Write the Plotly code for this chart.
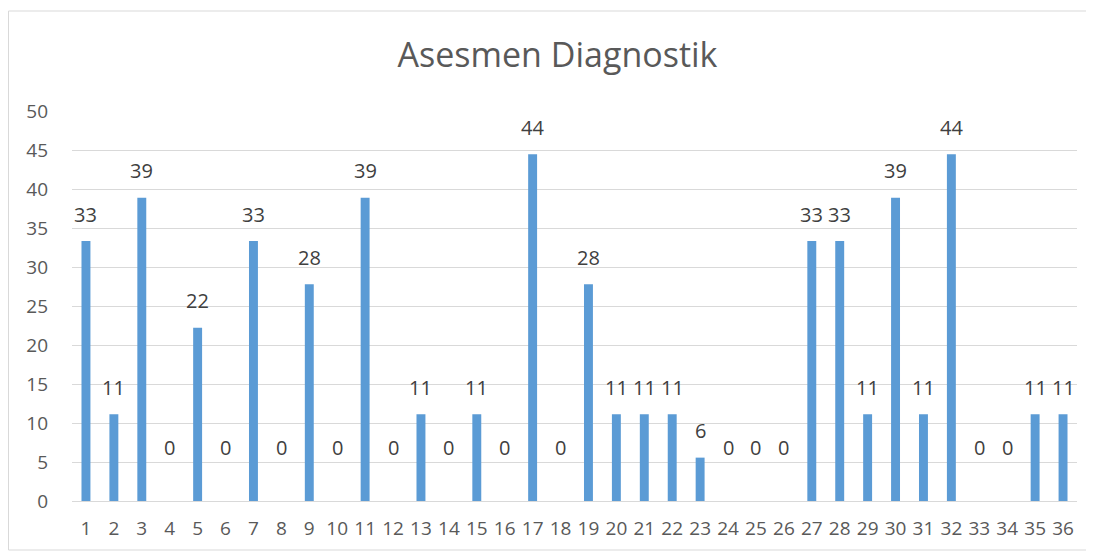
import plotly.graph_objects as go

categories = [str(i) for i in range(1, 37)]
values = [33.33, 11.11, 38.89, 0, 22.22, 0, 33.33, 0, 27.78, 0,
          38.89, 0, 11.11, 0, 11.11, 0, 44.44, 0, 27.78, 11.11,
          11.11, 11.11, 5.56, 0, 0, 0, 33.33, 33.33, 11.11, 38.89,
          11.11, 44.44, 0, 0, 11.11, 11.11]
y_ticks = [0, 5, 10, 15, 20, 25, 30, 35, 40, 45, 50]
title_text = "Asesmen Diagnostik"

FONT = "Open Sans"
# page has an 8px body margin, so the figure is drawn at (8, 8)
W, H = 1086, 548
ml, mr, mt, mb = 64, 17, 103, 55
pw, ph = W - ml - mr, H - mt - mb

fig = go.Figure()
fig.add_trace(go.Bar(
    x=categories, y=values,
    marker=dict(color="#5b9bd5", line=dict(width=0)),
    hoverinfo="x+y",
))

annotations = []
for i, v in enumerate(values):
    annotations.append(dict(
        x=i, y=v, xref="x", yref="y",
        text=f"{round(v):d}", showarrow=False,
        yshift=54 if v == 0 else 27,
        font=dict(family=FONT, size=20, color="#404040"),
    ))

def px_to_paper_x(px):
    return (px - ml) / pw

def px_to_paper_y(py):
    return (H - mb - py) / ph

fig.update_layout(
    width=W, height=H,
    margin=dict(l=ml, r=mr, t=mt, b=mb),
    paper_bgcolor="white", plot_bgcolor="white",
    bargap=0.68,
    showlegend=False,
    title=dict(text=title_text, x=549.5 / W, xanchor="center",
               xref="container",
               y=1 - 47 / H, yanchor="middle", yref="container",
               font=dict(family=FONT, size=34, color="#595959")),
    xaxis=dict(type="category", range=[-0.5, 35.5], showgrid=False,
               zeroline=False, showline=True, linecolor="#d9d9d9",
               linewidth=1, ticks="", ticklabelstandoff=10,
               tickfont=dict(family=FONT, size=19, color="#595959")),
    yaxis=dict(range=[0, 50], tickvals=y_ticks, showgrid=True,
               gridcolor="#d9d9d9", gridwidth=1, zeroline=False,
               showline=False, ticklabelstandoff=23,
               tickfont=dict(family=FONT, size=19, color="#595959")),
    annotations=annotations,
    shapes=[dict(type="rect", xref="paper", yref="paper",
                 x0=px_to_paper_x(0.5), x1=px_to_paper_x(1080),
                 y0=px_to_paper_y(542), y1=px_to_paper_y(3),
                 line=dict(color="#d9d9d9", width=1), layer="below")],
)

fig.write_html("out.html")
